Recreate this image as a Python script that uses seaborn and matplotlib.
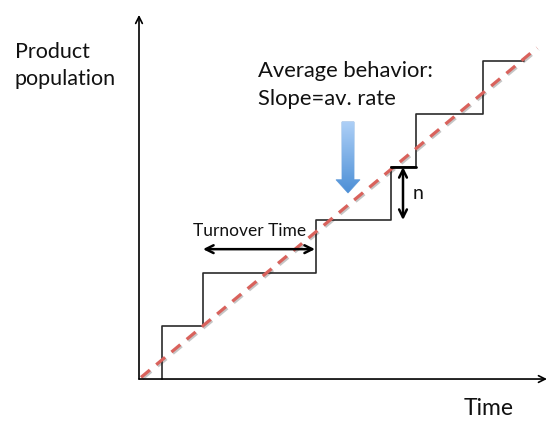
import numpy as np
import pandas as pd
import seaborn as sns
import matplotlib
matplotlib.use("Agg")
import matplotlib.pyplot as plt
from matplotlib.patches import Polygon
import matplotlib.patheffects as pe

# ---- data (abstract units: time, population in units of n) ----
jump_times = [2.3, 6.4, 17.7, 25.2, 27.7, 34.4]   # time of each production event
end_time = 38.5
levels = [0, 1, 2, 3, 4, 5, 6]                    # population after each event
avg_rate = 0.157                                   # slope of the average line
avg_times = [0.2, 39.8]

sns.set_theme(style="white")
plt.rcParams['font.family'] = ['Lato', 'DejaVu Sans']

fig = plt.figure(figsize=(5.48, 4.21), dpi=100)
ax = fig.add_axes([0, 0, 1, 1])
ax.set_xlim(-13.9, 40.9)
ax.set_ylim(-0.792, 7.151)
ax.axis('off')

# step curve
sx = [jump_times[0]] + list(jump_times) + [end_time]
sy = [levels[0]] + list(levels[1:]) + [levels[-1]]
step_df = pd.DataFrame({'t': sx, 'pop': sy})
sns.lineplot(data=step_df, x='t', y='pop', ax=ax, sort=False, estimator=None,
             drawstyle='steps-post', color='#2b2b2b', linewidth=1.2)

# average dashed line
avg_df = pd.DataFrame({'t': avg_times, 'pop': [avg_rate * t for t in avg_times]})
sns.lineplot(data=avg_df, x='t', y='pop', ax=ax, estimator=None, color='#d9625c',
             linewidth=2.3, dashes=False,
             path_effects=[pe.SimpleLineShadow(offset=(1, -1), alpha=0.25), pe.Normal()])
ax.lines[-1].set_dashes([3.6, 2.6])

# axes arrows
ax.annotate('', xy=(0, 6.87), xytext=(0, 0),
            arrowprops=dict(arrowstyle='->', color='black', lw=1.2, shrinkA=0, shrinkB=0,
                            mutation_scale=12))
ax.annotate('', xy=(40.8, 0), xytext=(0, 0),
            arrowprops=dict(arrowstyle='->', color='black', lw=1.2, shrinkA=0, shrinkB=0,
                            mutation_scale=12))

# turnover-time double arrow
ax.annotate('', xy=(jump_times[2] - 0.1, 2.45), xytext=(jump_times[1], 2.45),
            arrowprops=dict(arrowstyle='<->', color='black', lw=1.8, shrinkA=0, shrinkB=0,
                            mutation_scale=14))
ax.text(jump_times[1] - 1.0, 2.70, 'Turnover Time', ha='left', va='baseline',
        fontsize=12.5, color='#111111')

# n double arrow
nx = 26.4
ax.annotate('', xy=(nx, levels[4]), xytext=(nx, levels[3]),
            arrowprops=dict(arrowstyle='<->', color='black', lw=1.8, shrinkA=0, shrinkB=0,
                            mutation_scale=14))
ax.plot([jump_times[3], jump_times[4]], [levels[4], levels[4]], color='black', lw=2)
ax.text(27.4, 3.5, 'n', ha='left', va='center', fontsize=14, color='#111111')

# blue gradient arrow
cx, top, tip = 20.9, 4.85, 3.51
sw, hw, hl = 0.6, 1.2, 0.25
verts = [(cx - sw, top), (cx + sw, top), (cx + sw, tip + hl), (cx + hw, tip + hl),
         (cx, tip), (cx - hw, tip + hl), (cx - sw, tip + hl)]
poly = Polygon(verts, closed=True, facecolor='none', edgecolor='#6fa3dc', lw=0.6)
ax.add_patch(poly)
grad = np.linspace(0, 1, 256).reshape(-1, 1)
cmap = matplotlib.colors.LinearSegmentedColormap.from_list('bl', ['#aed0f7', '#4c8fd6'])
im = ax.imshow(grad, cmap=cmap, extent=(cx - hw, cx + hw, tip, top), origin='upper',
               aspect='auto', zorder=2)
im.set_clip_path(poly)

# texts
ax.text(-12.4, 6.057, 'Product', ha='left', va='baseline', fontsize=15.5, color='#111111')
ax.text(-12.4, 5.547, 'population', ha='left', va='baseline', fontsize=15.5, color='#111111')
ax.text(11.9, 5.698, 'Average behavior:', ha='left', va='baseline', fontsize=15.8,
        color='#111111')
ax.text(11.9, 5.170, 'Slope=av. rate', ha='left', va='baseline', fontsize=15.8,
        color='#111111')
ax.text(32.5, -0.679, 'Time', ha='left', va='baseline', fontsize=16.5, color='#111111')

fig.savefig('out.png', dpi=100)
